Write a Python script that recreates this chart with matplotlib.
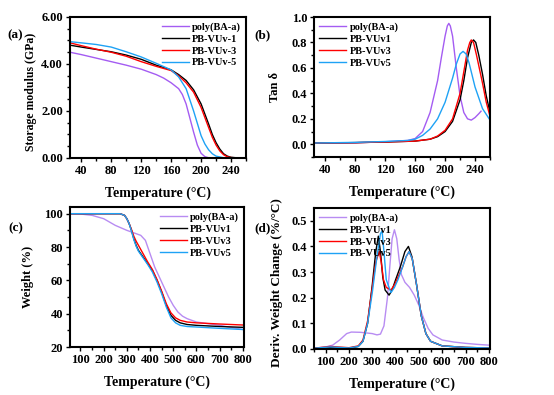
import numpy as np
import matplotlib
matplotlib.use('Agg')
import matplotlib.pyplot as plt
from matplotlib.ticker import MultipleLocator, FormatStrFormatter

plt.rcParams['font.family'] = ['Liberation Serif', 'DejaVu Serif']
plt.rcParams['font.weight'] = 'bold'
plt.rcParams['axes.labelweight'] = 'bold'

# colours
c_purple = '#a45cf2'
c_purple_l = '#b88cf2'
c_black = '#000000'
c_red = '#ff0000'
c_cyan = '#1ea2f5'

# (a) storage modulus (GPa)
T_a_purple = [25, 40, 60, 80, 100, 120, 140, 150, 160, 170, 175, 180, 185, 190, 195, 200, 205, 210, 220, 260]
E_purple = [4.5, 4.4, 4.25, 4.1, 3.95, 3.78, 3.55, 3.4, 3.2, 2.95, 2.7, 2.3, 1.7, 1.1, 0.55, 0.2, 0.06, 0.01, 0.0, 0.0]
T_a_black = [25, 40, 60, 80, 100, 120, 140, 160, 170, 180, 190, 200, 210, 215, 220, 225, 230, 235, 240, 250, 260]
E_black = [4.8, 4.72, 4.62, 4.52, 4.38, 4.2, 3.95, 3.75, 3.55, 3.3, 2.9, 2.3, 1.45, 1.0, 0.65, 0.38, 0.18, 0.08, 0.03, 0.0, 0.0]
E_red = [4.9, 4.78, 4.63, 4.5, 4.33, 4.1, 3.9, 3.72, 3.5, 3.2, 2.8, 2.15, 1.3, 0.88, 0.55, 0.3, 0.14, 0.05, 0.02, 0.0, 0.0]
T_a_cyan = [25, 40, 60, 80, 100, 120, 140, 160, 170, 180, 190, 200, 205, 210, 215, 220, 230, 240, 260]
E_cyan = [4.95, 4.9, 4.83, 4.72, 4.52, 4.3, 4.03, 3.75, 3.45, 2.95, 2.0, 0.95, 0.6, 0.35, 0.18, 0.08, 0.01, 0.0, 0.0]

# (b) tan delta
T_b_purple = [25, 80, 120, 150, 160, 170, 180, 190, 195, 200, 203, 205, 207, 210, 215, 220, 225, 230, 235, 240, 245, 248]
tan_purple = [0.01, 0.012, 0.02, 0.03, 0.045, 0.1, 0.25, 0.5, 0.68, 0.85, 0.93, 0.95, 0.93, 0.85, 0.6, 0.38, 0.25, 0.2, 0.19, 0.21, 0.24, 0.26]
T_b_cyan = [25, 80, 120, 150, 160, 170, 180, 190, 200, 210, 215, 220, 224, 228, 232, 240, 250, 260]
tan_cyan = [0.01, 0.015, 0.022, 0.03, 0.04, 0.07, 0.12, 0.2, 0.33, 0.52, 0.63, 0.71, 0.73, 0.71, 0.64, 0.45, 0.28, 0.19]
T_b_black = [25, 80, 120, 160, 180, 190, 200, 210, 220, 225, 230, 235, 238, 241, 245, 250, 255, 260]
tan_black = [0.01, 0.013, 0.018, 0.025, 0.04, 0.06, 0.1, 0.18, 0.35, 0.5, 0.68, 0.8, 0.82, 0.8, 0.7, 0.55, 0.38, 0.25]
T_b_red = [25, 80, 120, 160, 180, 190, 200, 210, 220, 225, 230, 233, 235, 238, 242, 250, 255, 260]
tan_red = [0.01, 0.013, 0.018, 0.025, 0.04, 0.065, 0.11, 0.2, 0.4, 0.57, 0.74, 0.8, 0.82, 0.8, 0.7, 0.48, 0.33, 0.22]

# (c) TGA weight (%)
T_c_purple = [50, 100, 150, 200, 250, 300, 330, 360, 380, 400, 420, 440, 460, 480, 500, 520, 540, 560, 600, 700, 800]
W_purple = [100, 99.8, 99, 97, 93, 90, 88.5, 87, 84, 76, 68, 62, 56, 50, 45, 41, 38.5, 37, 35, 33, 30.5]
T_c = [50, 100, 200, 270, 290, 300, 310, 320, 330, 340, 350, 370, 390, 410, 430, 450, 470, 490, 510, 530, 560, 600, 700, 800]
W_black = [100, 100, 100, 100, 99, 97, 94, 90, 85, 81, 78, 74, 70, 66, 60, 53, 45, 39, 36, 34.5, 33.5, 33, 32.3, 31.8]
W_red = [100, 100, 100, 100, 99, 97, 94, 90.5, 86.5, 83.5, 81, 76, 71, 66.5, 60.5, 53.5, 46, 40.5, 37.5, 36, 35, 34.5, 33.8, 33.2]
W_cyan = [100, 100, 100, 100, 99, 97, 94, 89.5, 84.5, 80.5, 77.5, 73.5, 69.5, 65, 59, 52, 44, 37.5, 34.5, 33, 32.3, 32, 31.2, 30.5]

# (d) DTG (%/°C)
T_d_purple = [50, 100, 130, 160, 190, 210, 250, 300, 320, 335, 350, 365, 375, 385, 395, 405, 415, 425, 440, 460, 480, 500, 520, 540, 560, 600, 650, 700, 750, 800]
D_purple = [0.003, 0.008, 0.015, 0.035, 0.06, 0.066, 0.065, 0.06, 0.055, 0.058, 0.09, 0.2, 0.32, 0.43, 0.465, 0.43, 0.35, 0.29, 0.26, 0.24, 0.21, 0.17, 0.12, 0.08, 0.055, 0.035, 0.027, 0.022, 0.018, 0.015]
T_d_black = [50, 120, 200, 240, 260, 280, 300, 315, 326, 335, 345, 355, 372, 385, 400, 420, 440, 455, 470, 490, 510, 530, 550, 600, 700, 800]
D_black = [0.003, 0.006, 0.003, 0.01, 0.03, 0.1, 0.25, 0.38, 0.44, 0.38, 0.28, 0.23, 0.21, 0.23, 0.27, 0.32, 0.38, 0.40, 0.36, 0.25, 0.13, 0.06, 0.03, 0.012, 0.006, 0.004]
T_d_red = [50, 120, 200, 240, 260, 280, 300, 315, 330, 338, 348, 360, 380, 395, 410, 430, 445, 458, 472, 490, 510, 530, 550, 600, 700, 800]
D_red = [0.003, 0.01, 0.005, 0.012, 0.035, 0.11, 0.24, 0.34, 0.38, 0.34, 0.27, 0.24, 0.23, 0.25, 0.28, 0.32, 0.36, 0.38, 0.35, 0.25, 0.13, 0.06, 0.03, 0.012, 0.006, 0.004]
T_d_cyan = [50, 120, 200, 240, 260, 280, 300, 320, 335, 342, 350, 360, 380, 395, 410, 430, 445, 458, 472, 490, 510, 530, 550, 600, 700, 800]
D_cyan = [0.003, 0.008, 0.004, 0.01, 0.03, 0.1, 0.22, 0.36, 0.45, 0.46, 0.38, 0.27, 0.22, 0.24, 0.27, 0.32, 0.36, 0.38, 0.35, 0.25, 0.13, 0.06, 0.03, 0.012, 0.006, 0.004]

labels_a = ['poly(BA-a)', 'PB-VUv-1', 'PB-VUv-3', 'PB-VUv-5']
labels_b = ['poly(BA-a)', 'PB-VUv1', 'PB-VUv3', 'PB-VUv5']

fig = plt.figure(figsize=(5.54, 3.95), dpi=100)
ax_a = fig.add_axes([0.1264, 0.600, 0.3177, 0.357])
ax_b = fig.add_axes([0.5668, 0.6025, 0.3177, 0.3544])
ax_c = fig.add_axes([0.1264, 0.1215, 0.314, 0.3544])
ax_d = fig.add_axes([0.5668, 0.1165, 0.3177, 0.357])

lw = 1.0
ax_a.plot(T_a_purple, E_purple, color=c_purple, lw=lw, label=labels_a[0])
ax_a.plot(T_a_black, E_black, color=c_black, lw=lw, label=labels_a[1])
ax_a.plot(T_a_black, E_red, color=c_red, lw=lw, label=labels_a[2])
ax_a.plot(T_a_cyan, E_cyan, color=c_cyan, lw=lw, label=labels_a[3])
ax_a.set_xlim(25, 260)
ax_a.set_ylim(0, 6)
ax_a.set_xticks([40, 80, 120, 160, 200, 240])
ax_a.xaxis.set_minor_locator(MultipleLocator(20))
ax_a.yaxis.set_minor_locator(MultipleLocator(0.5))
ax_a.yaxis.set_major_formatter(FormatStrFormatter('%.2f'))
ax_a.set_ylabel('Storage modulus (GPa)', fontsize=8.5)
ax_a.yaxis.set_label_coords(-0.19, 0.47)

ax_b.plot(T_b_purple, tan_purple, color=c_purple, lw=lw, label=labels_b[0])
ax_b.plot(T_b_black, tan_black, color=c_black, lw=lw, label=labels_b[1])
ax_b.plot(T_b_red, tan_red, color=c_red, lw=lw, label=labels_b[2])
ax_b.plot(T_b_cyan, tan_cyan, color=c_cyan, lw=lw, label=labels_b[3])
ax_b.set_xlim(25, 260)
ax_b.set_ylim(-0.1, 1.0)
ax_b.set_xticks([40, 80, 120, 160, 200, 240])
ax_b.set_yticks([0.0, 0.2, 0.4, 0.6, 0.8, 1.0])
ax_b.xaxis.set_minor_locator(MultipleLocator(20))
ax_b.yaxis.set_minor_locator(MultipleLocator(0.1))
ax_b.yaxis.set_major_formatter(FormatStrFormatter('%.1f'))
ax_b.set_ylabel('Tan δ', fontsize=9)
ax_b.yaxis.set_label_coords(-0.19, 0.5)

ax_c.plot(T_c_purple, W_purple, color=c_purple_l, lw=lw, label=labels_b[0])
ax_c.plot(T_c, W_black, color=c_black, lw=lw, label=labels_b[1])
ax_c.plot(T_c, W_red, color=c_red, lw=lw, label=labels_b[2])
ax_c.plot(T_c, W_cyan, color=c_cyan, lw=lw, label=labels_b[3])
ax_c.set_xlim(55, 805)
ax_c.set_ylim(20, 104)
ax_c.set_xticks(range(100, 801, 100))
ax_c.set_yticks([20, 40, 60, 80, 100])
ax_c.xaxis.set_minor_locator(MultipleLocator(50))
ax_c.yaxis.set_minor_locator(MultipleLocator(10))
ax_c.set_ylabel('Weight (%)', fontsize=9)
ax_c.yaxis.set_label_coords(-0.207, 0.5)

ax_d.plot(T_d_purple, D_purple, color=c_purple_l, lw=lw, label=labels_b[0])
ax_d.plot(T_d_black, D_black, color=c_black, lw=lw, label=labels_b[1])
ax_d.plot(T_d_red, D_red, color=c_red, lw=lw, label=labels_b[2])
ax_d.plot(T_d_cyan, D_cyan, color=c_cyan, lw=lw, label=labels_b[3])
ax_d.set_xlim(50, 805)
ax_d.set_ylim(0, 0.55)
ax_d.set_xticks(range(100, 801, 100))
ax_d.set_yticks([0.0, 0.1, 0.2, 0.3, 0.4, 0.5])
ax_d.xaxis.set_minor_locator(MultipleLocator(50))
ax_d.yaxis.set_major_formatter(FormatStrFormatter('%.1f'))
ax_d.set_ylabel('Deriv. Weight Change (%/°C)', fontsize=9.5)
ax_d.yaxis.set_label_coords(-0.175, 0.47)

for ax in [ax_a, ax_b, ax_c, ax_d]:
    ax.set_xlabel('Temperature (°C)', fontsize=10, labelpad=7)
    ax.tick_params(which='major', direction='out', length=3, width=1, labelsize=9, top=False, right=False, pad=2)
    ax.tick_params(which='minor', direction='out', length=2, width=1, top=False, right=False)
    for sp in ax.spines.values():
        sp.set_linewidth(1.5)
    for lbl in ax.get_xticklabels() + ax.get_yticklabels():
        lbl.set_fontweight('bold')

leg_kw = dict(frameon=False, fontsize=7.5, handlelength=2.6, handletextpad=0.3,
              labelspacing=0.25, borderaxespad=0.1)
ax_a.legend(loc='upper right', **leg_kw)
ax_b.legend(loc='upper left', **leg_kw)
ax_c.legend(loc='upper right', **leg_kw)
ax_d.legend(loc='upper left', **leg_kw)

fig.text(7 / 554, 1 - 38 / 395, '(a)', fontsize=9.5, fontweight='bold')
fig.text(254 / 554, 1 - 38 / 395, '(b)', fontsize=9.5, fontweight='bold')
fig.text(8 / 554, 1 - 231 / 395, '(c)', fontsize=9.5, fontweight='bold')
fig.text(254 / 554, 1 - 231 / 395, '(d)', fontsize=9.5, fontweight='bold')

fig.savefig('out.png', dpi=100)
